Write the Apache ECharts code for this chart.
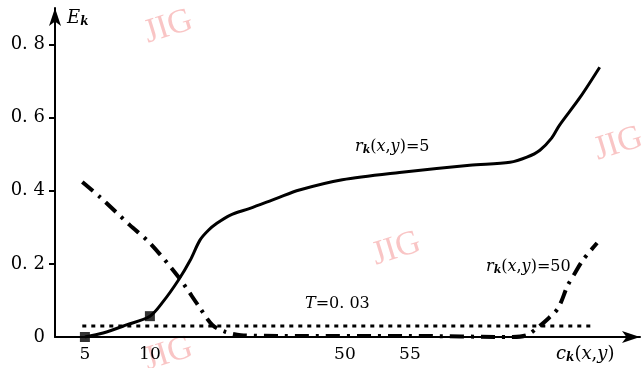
<!DOCTYPE html>
<html>
<head>
<meta charset="utf-8">
<script src="https://cdn.jsdelivr.net/npm/echarts@6/dist/echarts.min.js"></script>
<style>
  html, body { margin: 0; padding: 0; background: #fff; }
  #chart { width: 643px; height: 368px; }
</style>
</head>
<body>
<div id="chart"></div>
<script>
// x is drawn on a broken scale: tick positions vs. printed labels
var xTickPos = [5, 10, 25, 30]
var xTickLabels = ['5', '10', '50', '55']
var yTickValues = [0, 0.2, 0.4, 0.6, 0.8]

// r_k(x,y)=5, solid
var solidX = [5, 6.4, 8.2, 10, 11, 12.2, 13.1, 13.85, 14.5, 15.15, 16.15, 17.7, 19.8, 21.5, 24.8, 29.2, 34.6, 37.7, 39, 40, 40.9, 41.5, 43.1, 44.6]
var solidY = [0, 0.011, 0.033, 0.057, 0.096, 0.156, 0.21, 0.265, 0.292, 0.311, 0.333, 0.352, 0.38, 0.402, 0.43, 0.45, 0.47, 0.478, 0.492, 0.511, 0.544, 0.579, 0.656, 0.738]

// dash-dot curve, ends as r_k(x,y)=50
var dashX = [4.8, 6.15, 8.46, 10, 12.2, 13.8, 14.8, 15.8, 17, 20, 30, 37.9, 39, 39.8, 40.5, 41.4, 42.15, 42.7, 43.3, 44.4]
var dashY = [0.424, 0.383, 0.306, 0.257, 0.164, 0.082, 0.033, 0.014, 0.005, 0.003, 0.003, 0, 0.005, 0.025, 0.046, 0.079, 0.142, 0.175, 0.21, 0.257]

// threshold T=0.03
var thrX = [4.8, 44]
var thrY = [0.03, 0.03]

// square markers on the solid curve
var markX = [5, 10]
var markY = [0, 0.057]

function zip(a, b) {
  var out = []
  for (var i = 0; i < a.length; ++i) out.push([a[i], b[i]])
  return out
}

var chart = echarts.init(document.getElementById('chart'))
var serif = '"DejaVu Serif", "Liberation Serif", serif'
var mark = 'rgba(240,110,110,0.4)'

var option = {
  animation: false,
  backgroundColor: '#fff',
  grid: { left: 55, right: 3, top: 8, bottom: 31, containLabel: false },
  xAxis: {
    type: 'value',
    min: 2.7,
    max: 47.7,
    axisLine: { show: true, symbol: ['none', 'arrow'], symbolSize: [9, 18], lineStyle: { color: '#000', width: 2 } },
    axisTick: { show: false },
    splitLine: { show: false },
    axisLabel: {
      customValues: xTickPos,
      margin: 9,
      color: '#000',
      fontFamily: serif,
      fontSize: 17,
      formatter: function(v) {
        var i = xTickPos.indexOf(v)
        return i >= 0 ? xTickLabels[i] : ''
      }
    }
  },
  yAxis: {
    type: 'value',
    min: 0,
    max: 0.9,
    axisLine: { show: true, symbol: ['none', 'arrow'], symbolSize: [9, 18], lineStyle: { color: '#000', width: 2 } },
    axisTick: { show: true, customValues: [0.2, 0.4, 0.6, 0.8], length: 6, lineStyle: { color: '#000', width: 2 } },
    splitLine: { show: false },
    axisLabel: {
      customValues: yTickValues,
      margin: 10,
      color: '#000',
      fontFamily: serif,
      fontSize: 18,
      formatter: function(v) {
        return v === 0 ? '0' : v.toFixed(1).replace('.', '. ')
      }
    }
  },
  series: [
    {
      type: 'line',
      data: zip(solidX, solidY),
      smooth: 0.3,
      symbol: 'none',
      lineStyle: { color: '#000', width: 3 },
      z: 3
    },
    {
      type: 'line',
      data: zip(dashX, dashY),
      smooth: 0.3,
      symbol: 'none',
      lineStyle: { color: '#000', width: 4, type: [14, 7, 3, 7] },
      z: 3
    },
    {
      type: 'line',
      data: zip(thrX, thrY),
      symbol: 'none',
      lineStyle: { color: '#000', width: 3, type: [4, 5] },
      z: 2
    },
    {
      type: 'scatter',
      data: zip(markX, markY),
      symbol: 'rect',
      symbolSize: 10,
      itemStyle: { color: '#000' },
      z: 4
    }
  ],
  graphic: [
    // JIG watermarks
    { type: 'text', x: 140, y: 18, rotation: 0.3, z: 0, style: { text: 'JIG', font: '34px "Liberation Serif"', fill: mark } },
    { type: 'text', x: 368, y: 240, rotation: 0.3, z: 0, style: { text: 'JIG', font: '34px "Liberation Serif"', fill: mark } },
    { type: 'text', x: 590, y: 135, rotation: 0.3, z: 0, style: { text: 'JIG', font: '34px "Liberation Serif"', fill: mark } },
    { type: 'text', x: 140, y: 345, rotation: 0.3, z: 0, style: { text: 'JIG', font: '34px "Liberation Serif"', fill: mark } },
    // axis names
    {
      type: 'text', x: 67, y: 8, z: 10,
      style: {
        text: '{e|E}{k|k}',
        rich: {
          e: { fontFamily: serif, fontStyle: 'italic', fontSize: 18, fill: '#000' },
          k: { fontFamily: serif, fontStyle: 'italic', fontWeight: 'bold', fontSize: 12, fill: '#000', padding: [8, 0, 0, 0] }
        }
      }
    },
    {
      type: 'text', x: 556, y: 344, z: 10,
      style: {
        text: '{c|c}{k|k}{n|(}{c|x}{n|,}{c|y}{n|)}',
        rich: {
          c: { fontFamily: serif, fontStyle: 'italic', fontSize: 18, fill: '#000' },
          n: { fontFamily: serif, fontSize: 18, fill: '#000' },
          k: { fontFamily: serif, fontStyle: 'italic', fontWeight: 'bold', fontSize: 12, fill: '#000', padding: [8, 0, 0, 0] }
        }
      }
    },
    // curve labels
    {
      type: 'text', x: 355, y: 137, z: 10,
      style: {
        text: '{c|r}{k|k}{n|(}{c|x}{n|,}{c|y}{n|)=5}',
        rich: {
          c: { fontFamily: serif, fontStyle: 'italic', fontSize: 16, fill: '#000' },
          n: { fontFamily: serif, fontSize: 16, fill: '#000' },
          k: { fontFamily: serif, fontStyle: 'italic', fontWeight: 'bold', fontSize: 11, fill: '#000', padding: [8, 0, 0, 0] }
        }
      }
    },
    {
      type: 'text', x: 486, y: 257, z: 10,
      style: {
        text: '{c|r}{k|k}{n|(}{c|x}{n|,}{c|y}{n|)=50}',
        rich: {
          c: { fontFamily: serif, fontStyle: 'italic', fontSize: 16, fill: '#000' },
          n: { fontFamily: serif, fontSize: 16, fill: '#000' },
          k: { fontFamily: serif, fontStyle: 'italic', fontWeight: 'bold', fontSize: 11, fill: '#000', padding: [8, 0, 0, 0] }
        }
      }
    },
    {
      type: 'text', x: 305, y: 296, z: 10,
      style: {
        text: '{c|T}{n|=0. 03}',
        rich: {
          c: { fontFamily: serif, fontStyle: 'italic', fontSize: 16, fill: '#000' },
          n: { fontFamily: serif, fontSize: 16, fill: '#000' }
        }
      }
    }
  ]
}
chart.setOption(option)
</script>
</body>
</html>
